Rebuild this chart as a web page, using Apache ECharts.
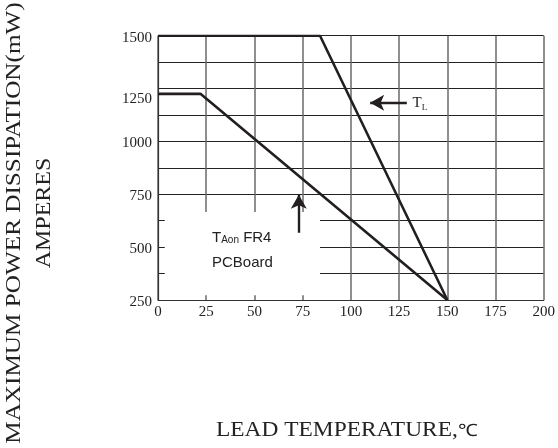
<!DOCTYPE html>
<html><head><meta charset="utf-8">
<script src="https://cdn.jsdelivr.net/npm/echarts@6/dist/echarts.min.js"></script>
<style>html,body{margin:0;padding:0;background:#fff}#c{width:558px;height:448px}</style>
</head><body><div id="c"></div>
<script>
// Data
var xTicks = [0, 25, 50, 75, 100, 125, 150, 175, 200];
var yTicks = [250, 500, 750, 1000, 1250, 1500];
var leadCurve = [[0, 1500], [84, 1500], [150, 250]];      // T_L
var boardCurve = [[0, 1225], [22, 1225], [150, 250]];     // T_A on FR4 PCBoard
var boxArea = [[3.5, 272], [84, 666]];                    // blank label box
var upArrow = [[73, 568], [73, 748]];
var leftArrow = [[129, 1183], [110, 1183]];
var tlLabelPos = [132, 1183];
var boardLabelPos = [28, 484];

var chart = echarts.init(document.getElementById('c'), null, {renderer: 'canvas'});
var ink = '#231f20';
var serif = '"Liberation Serif","DejaVu Serif",serif';
var sans = '"Liberation Sans",Arial,sans-serif';

chart.setOption({
  animation: false,
  backgroundColor: '#fff',
  grid: {left: 158, right: 10, top: 35.7, bottom: 148, containLabel: false},
  xAxis: {
    type: 'value', min: 0, max: 200, interval: 25,
    axisLine: {show: true, lineStyle: {color: '#333', width: 1.2}},
    axisTick: {show: false},
    axisLabel: {color: '#222', fontFamily: serif, fontSize: 15, margin: 5,
      formatter: function (v) { return xTicks.indexOf(v) >= 0 ? String(v) : ''; }},
    splitLine: {show: true, lineStyle: {color: '#6a6a6a', width: 1.5}}
  },
  yAxis: {
    type: 'value', min: 250, max: 1500, interval: 125,
    axisLine: {show: true, lineStyle: {color: '#333', width: 1.2}},
    axisTick: {show: false},
    axisLabel: {color: '#222', fontFamily: serif, fontSize: 15, margin: 6,
      formatter: function (v) {
        if (yTicks.indexOf(v) < 0) return '';
        return v === 1250 ? '{low|' + v + '}' : '{n|' + v + '}';
      },
      rich: {
        n: {fontFamily: serif, fontSize: 15, color: '#222', padding: [4, 0, 0, 0]},
        low: {fontFamily: serif, fontSize: 15, color: '#222', padding: [22, 0, 0, 0]}
      }},
    splitLine: {show: true, lineStyle: {color: '#222', width: 1}}
  },
  series: [
    {
      type: 'line', data: [], z: 3,
      markArea: {silent: true, itemStyle: {color: '#fff', opacity: 1},
        data: [[{coord: boxArea[0]}, {coord: boxArea[1]}]]}
    },
    {
      type: 'line', data: leadCurve, z: 5, symbol: 'none',
      lineStyle: {color: ink, width: 2.6}
    },
    {
      type: 'line', data: boardCurve, z: 5, symbol: 'none',
      lineStyle: {color: ink, width: 2.6}
    },
    {
      type: 'line', data: [], z: 6,
      markLine: {
        silent: true, symbol: ['none', 'arrow'], symbolSize: [12, 14],
        lineStyle: {color: ink, width: 2.4, type: 'solid'},
        label: {show: false},
        data: [
          [{coord: upArrow[0]}, {coord: upArrow[1]}],
          [{coord: leftArrow[0]}, {coord: leftArrow[1]}]
        ]
      },
      markPoint: {
        silent: true, symbol: 'circle', symbolSize: 0,
        data: [
          {coord: tlLabelPos, label: {show: true, position: 'right', distance: 0,
            formatter: '{t|T}{s|L}',
            rich: {t: {fontFamily: serif, fontSize: 15, color: '#222'},
                   s: {fontFamily: serif, fontSize: 9, color: '#222', padding: [10, 0, 0, 0]}}}},
          {coord: boardLabelPos, label: {show: true, position: 'right', distance: 0,
            formatter: '{t|T}{s|Aon}{t| FR4}\n{t|PCBoard}',
            lineHeight: 25,
            rich: {t: {fontFamily: sans, fontSize: 15, color: '#222', lineHeight: 25},
                   s: {fontFamily: sans, fontSize: 10, color: '#222', lineHeight: 25, padding: [4, 0, 0, 0]}}}}
        ]
      }
    }
  ],
  graphic: [
    {type: 'text', x: 15, y: 223, rotation: Math.PI / 2, scaleX: 1.26,
      style: {text: 'MAXIMUM POWER DISSIPATION(mW)', font: '20px ' + serif, fill: '#222',
        textAlign: 'center', textVerticalAlign: 'middle'}},
    {type: 'text', x: 45, y: 213, rotation: Math.PI / 2, scaleX: 1.2,
      style: {text: 'AMPERES', font: '20px ' + serif, fill: '#222',
        textAlign: 'center', textVerticalAlign: 'middle'}},
    {type: 'text', x: 216, y: 431, scaleX: 1.17,
      style: {rich: {a: {fontFamily: serif, fontSize: 20, fill: '#222'}, b: {fontFamily: sans, fontSize: 17, fill: '#222'}},
        text: '{a|LEAD TEMPERATURE,}{b|℃}', fill: '#222',
        textAlign: 'left', textVerticalAlign: 'middle'}}
  ]
});
</script></body></html>
